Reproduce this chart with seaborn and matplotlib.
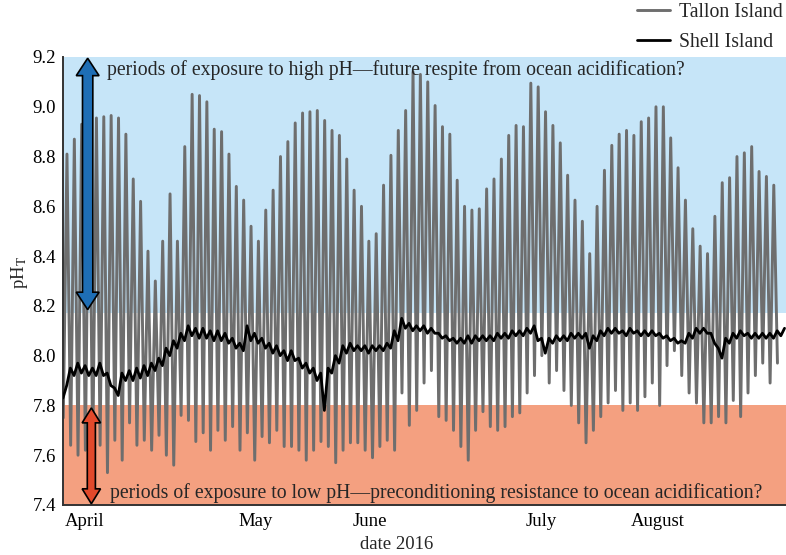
# pH time series, Tallon Island vs Shell Island, 2016
import numpy as np
import pandas as pd
import matplotlib
matplotlib.use('Agg')
import matplotlib.pyplot as plt
import seaborn as sns
from matplotlib.patches import Polygon

# Tallon Island: daily maxima and minima
tallon_peak = [8.81, 8.87, 8.93, 8.95, 8.955, 8.96, 8.965, 8.955, 8.89, 8.71,
               8.62, 8.42, 8.30, 8.46, 8.65, 8.46, 8.84, 9.05, 9.045, 9.02,
               8.91, 8.90, 8.81, 8.68, 8.625, 8.52, 8.46, 8.585, 8.665, 8.80,
               8.86, 8.935, 8.975, 8.98, 8.985, 8.945, 8.905, 8.885, 8.79, 8.665,
               8.60, 8.46, 8.49, 8.685, 8.805, 8.905, 8.985, 9.14, 9.13, 9.10,
               9.005, 8.92, 8.89, 8.705, 8.60, 8.585, 8.59, 8.67, 8.71, 8.79,
               8.885, 8.925, 8.92, 9.095, 9.08, 8.98, 8.925, 8.855, 8.725, 8.625,
               8.54, 8.41, 8.60, 8.745, 8.845, 8.89, 8.905, 8.885, 8.94, 8.955,
               9.00, 9.00, 8.875, 8.755, 8.625, 8.51, 8.44, 8.41, 8.56, 8.695,
               8.715, 8.80, 8.815, 8.84, 8.74, 8.72, 8.685]
tallon_trough = [7.75,
                 7.64, 7.60, 7.62, 7.60, 7.64, 7.53, 7.66, 7.58, 7.73, 7.64,
                 7.66, 7.62, 7.68, 7.60, 7.56, 7.76,
                 7.74, 7.655, 7.69, 7.62, 7.70, 7.66, 7.715, 7.62, 7.69, 7.58,
                 7.675, 7.65, 7.70, 7.635, 7.635, 7.62,
                 7.58, 7.62, 7.655, 7.635, 7.57, 7.62, 7.65, 7.65, 7.62, 7.59,
                 7.635, 7.66, 7.62, 7.85, 7.72, 7.78,
                 7.89, 7.94, 7.755, 7.74, 7.70, 7.635, 7.58, 7.70, 7.775, 7.715,
                 7.70, 7.715, 7.755, 7.77, 7.85, 7.92,
                 8.00, 7.89, 7.94, 7.86, 7.80, 7.73, 7.65, 7.70, 7.755, 7.81,
                 7.86, 7.78, 7.81, 7.78, 7.835, 7.89, 7.80,
                 7.96, 8.02, 7.92, 7.85, 7.81, 7.73, 7.73, 7.755, 7.73, 7.82,
                 7.755, 7.85, 7.92, 7.97, 7.89, 7.97]

# Shell Island: two readings per day (start of day, mid-day)
shell_am = [7.83, 7.95, 7.97, 7.96, 7.95, 7.97, 7.93, 7.87, 7.93, 7.94,
            7.95, 7.96, 7.97, 7.99, 8.03, 8.06, 8.09, 8.12, 8.11, 8.11,
            8.10, 8.10, 8.09, 8.07, 8.05, 8.12, 8.09, 8.07, 8.05, 8.04,
            8.02, 8.02, 7.99, 7.97, 7.95, 7.93, 7.95, 8.00, 8.04, 8.05,
            8.04, 8.04, 8.04, 8.04, 8.05, 8.10, 8.15, 8.13, 8.12, 8.12,
            8.11, 8.09, 8.08, 8.07, 8.07, 8.08, 8.08, 8.08, 8.08, 8.09,
            8.09, 8.10, 8.10, 8.11, 8.12, 8.07, 8.07, 8.08, 8.08, 8.09,
            8.09, 8.09, 8.08, 8.10, 8.11, 8.11, 8.10, 8.11, 8.10, 8.10,
            8.10, 8.09, 8.08, 8.07, 8.06, 8.09, 8.11, 8.11, 8.09, 8.03,
            8.07, 8.09, 8.10, 8.09, 8.09, 8.09, 8.09, 8.10, 8.11]
shell_pm = [7.88, 7.92, 7.93, 7.92, 7.92, 7.92, 7.88, 7.84, 7.90, 7.90,
            7.91, 7.92, 7.94, 7.96, 8.00, 8.03, 8.06, 8.08, 8.07, 8.07,
            8.06, 8.06, 8.05, 8.03, 8.02, 8.06, 8.05, 8.03, 8.01, 8.00,
            7.98, 7.98, 7.95, 7.93, 7.90, 7.78, 7.93, 7.97, 8.01, 8.02,
            8.02, 8.01, 8.02, 8.02, 8.03, 8.06, 8.11, 8.10, 8.10, 8.09,
            8.09, 8.07, 8.06, 8.05, 8.05, 8.05, 8.06, 8.06, 8.06, 8.07,
            8.07, 8.08, 8.08, 8.09, 8.06, 8.01, 8.05, 8.06, 8.06, 8.07,
            8.07, 8.03, 8.06, 8.08, 8.09, 8.09, 8.08, 8.09, 8.08, 8.08,
            8.08, 8.07, 8.06, 8.05, 8.05, 8.07, 8.09, 8.09, 8.05, 7.99,
            8.05, 8.07, 8.08, 8.07, 8.07, 8.07, 8.07, 8.08]

month_labels = ['April', 'May', 'June', 'July', 'August']
month_days = [3.0, 26.1, 41.7, 64.9, 80.8]

# interleave into time series (days since start of record)
n = len(tallon_peak)
tallon_vals = np.empty(2 * n + 1)
tallon_vals[0::2] = tallon_trough
tallon_vals[1::2] = tallon_peak
tallon_days = np.arange(2 * n + 1) * 0.5 + 0.04

m = len(shell_pm)
shell_vals = np.empty(2 * m + 1)
shell_vals[0::2] = shell_am
shell_vals[1::2] = shell_pm
shell_days = np.arange(2 * m + 1) * 0.5

df_tallon = pd.DataFrame({'day': tallon_days, 'pH': tallon_vals})
df_shell = pd.DataFrame({'day': shell_days, 'pH': shell_vals})

sns.set_style('white')
plt.rcParams['font.family'] = ['Liberation Serif', 'DejaVu Serif']
plt.rcParams['mathtext.fontset'] = 'stix'
fs = 14.2
tick_fs = 13.5


def double_arrow(ax, x, y_lo, y_hi, half_shaft, half_head, head_len, color):
    pts = [(x, y_hi), (x + half_head, y_hi - head_len), (x + half_shaft, y_hi - head_len),
           (x + half_shaft, y_lo + head_len), (x + half_head, y_lo + head_len), (x, y_lo),
           (x - half_head, y_lo + head_len), (x - half_shaft, y_lo + head_len),
           (x - half_shaft, y_hi - head_len), (x - half_head, y_hi - head_len)]
    ax.add_patch(Polygon(pts, closed=True, fc=color, ec='black', lw=1.2,
                         zorder=5, clip_on=False))


fig = plt.figure(figsize=(7.86, 5.55), dpi=100)
ax = fig.add_axes([63 / 786, 50 / 555, 723 / 786, 448 / 555])

# shaded pH bands
ax.axhspan(8.17, 9.2, color='#c6e5f8', lw=0, zorder=0)
ax.axhspan(7.4, 7.8, color='#f4a080', lw=0, zorder=0)

sns.lineplot(data=df_tallon, x='day', y='pH', sort=False, color='#6e6e6e',
             lw=2.1, ax=ax, label='Tallon Island', zorder=2)
sns.lineplot(data=df_shell, x='day', y='pH', sort=False, color='black',
             lw=2.0, ax=ax, label='Shell Island', zorder=3)

double_arrow(ax, 3.35, 8.185, 9.195, 0.7, 1.55, 0.07, '#1e6eb5')
double_arrow(ax, 3.85, 7.405, 7.79, 0.55, 1.25, 0.06, '#e2492b')

ax.text(5.95, 9.148, 'periods of exposure to high pH\u2014future respite from ocean acidification?',
        fontsize=fs, va='center', ha='left', zorder=6)
ax.text(6.35, 7.448, 'periods of exposure to low pH\u2014preconditioning resistance to ocean acidification?',
        fontsize=fs, va='center', ha='left', zorder=6)

ax.set_xlim(0, 98.2)
ax.set_ylim(7.4, 9.2)
ax.set_yticks(np.arange(7.4, 9.21, 0.2))
ax.set_yticklabels([f'{v:.1f}' for v in np.arange(7.4, 9.21, 0.2)])
ax.set_xticks(month_days)
ax.set_xticklabels(month_labels)
ax.tick_params(axis='both', length=0, labelsize=tick_fs, colors='black')
ax.tick_params(axis='x', pad=6)
ax.tick_params(axis='y', pad=5)

ax.set_xlabel('date 2016', fontsize=tick_fs)
ax.xaxis.set_label_coords((397 - 63) / 723, -0.07)
ax.set_ylabel(r'pH$_\mathrm{T}$', fontsize=tick_fs)
ax.yaxis.set_label_coords(-0.045, 0.52)

for side in ['top', 'right']:
    ax.spines[side].set_visible(False)
for side in ['left', 'bottom']:
    ax.spines[side].set_color('#333333')
    ax.spines[side].set_linewidth(1.4)

handles, labels = ax.get_legend_handles_labels()
ax.get_legend().remove()
fig.legend(handles, labels, loc='upper right', bbox_to_anchor=(1.0, 1.0),
           frameon=False, fontsize=fs, handlelength=1.7, handletextpad=0.45,
           labelspacing=0.55, borderpad=0.05, borderaxespad=0.1)

fig.savefig('out.png', dpi=100)
